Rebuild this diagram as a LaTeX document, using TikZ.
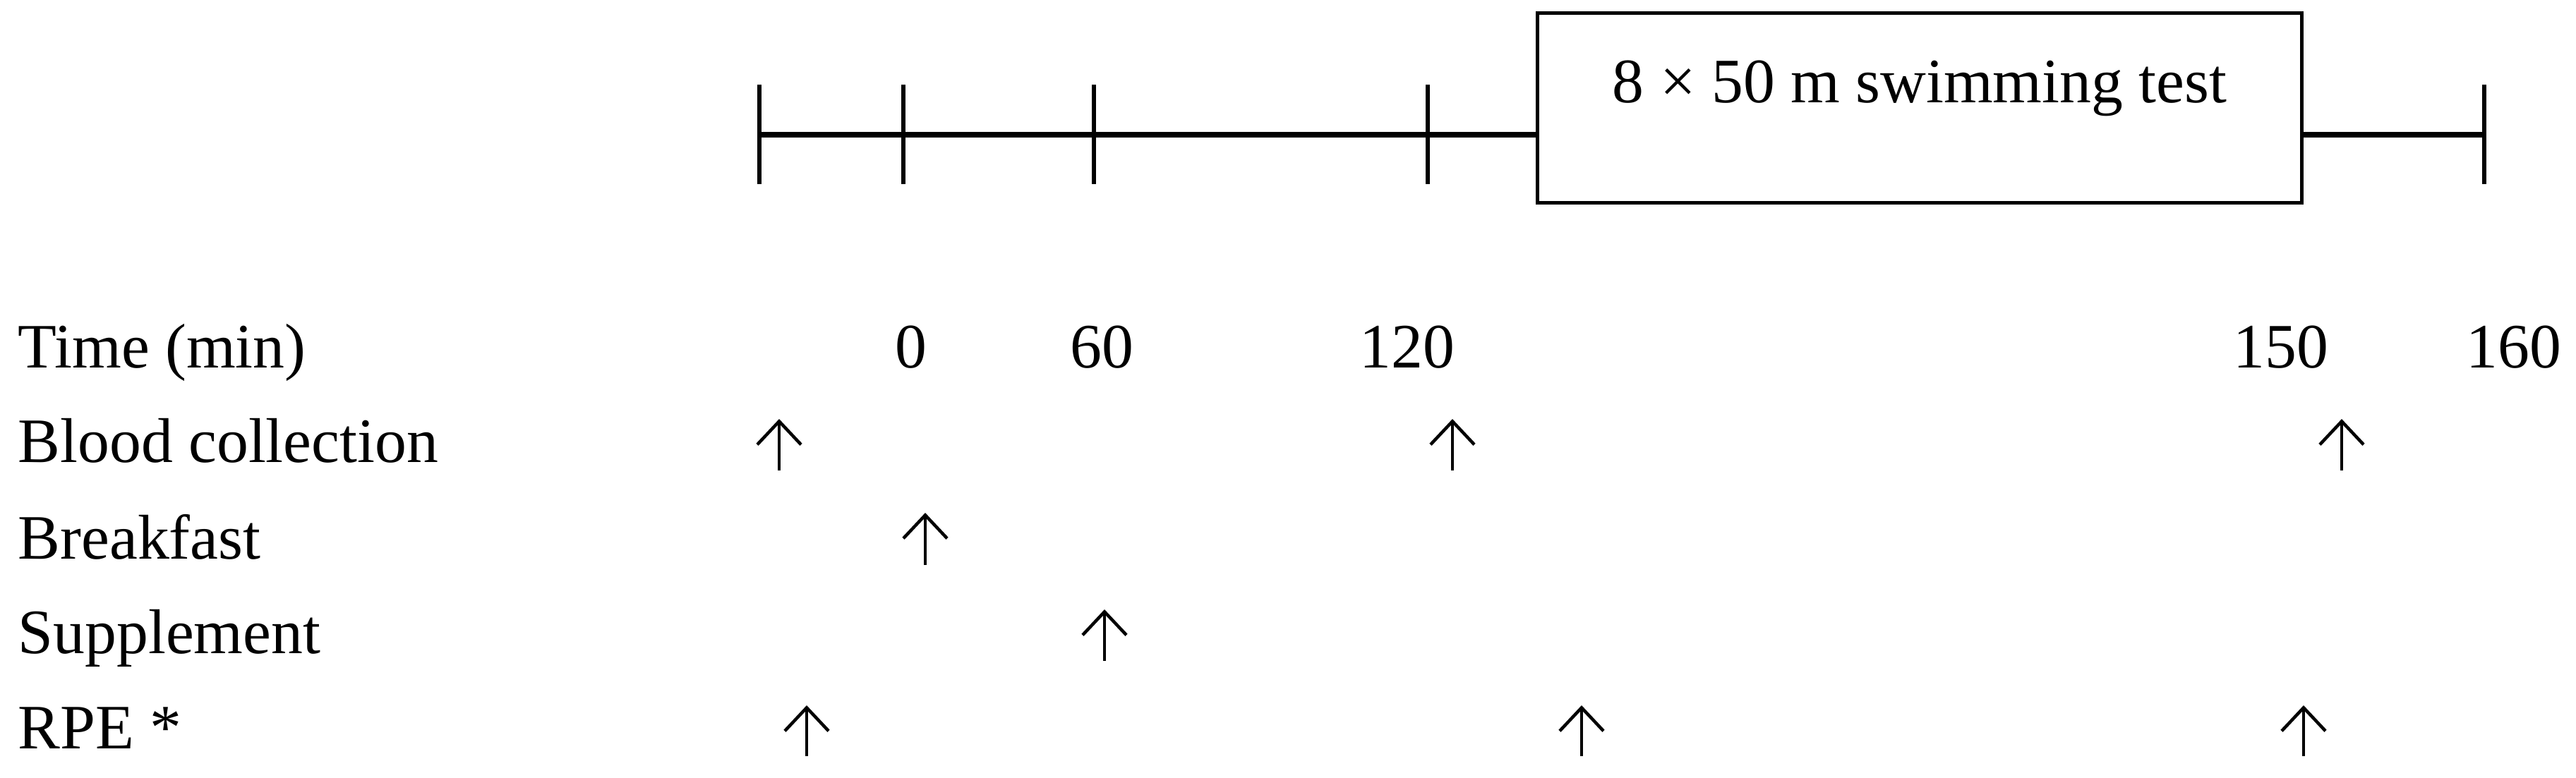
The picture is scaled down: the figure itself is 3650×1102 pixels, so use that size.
\documentclass[tikz,border=0pt]{standalone}
\usepackage{fontspec}
\setmainfont{Liberation Serif}
\usetikzlibrary{arrows.meta}
\begin{document}
\begin{tikzpicture}[x=0.01cm,y=-0.01cm,
  txt/.style={inner sep=0pt,font=\fontsize{25.5}{30}\selectfont},
  rowlabel/.style={txt,anchor=base west},
  num/.style={txt,anchor=base},
  axis/.style={line width=0.08cm},
  tickline/.style={line width=0.06cm},
  testbox/.style={draw,line width=0.05cm,minimum width=10.83cm,minimum height=2.68cm,inner sep=0pt},
  uparrow/.style={line width=0.045cm,-{Straight Barb[length=0.33cm,width=0.62cm]}}]
\useasboundingbox (0,0) rectangle (3650,1102);

% timeline
\node[testbox] (swim) at (2720,153) {};
\node[txt,anchor=base] (swimtxt) at (2720,145) {8 × 50 m swimming test};
\foreach \n/\x in {t1/1076,t2/1280,t3/1550,t4/2023,t5/3520}{
  \coordinate (\n) at (\x,191);
  \coordinate (\n top) at (\x,120);
  \coordinate (\n bot) at (\x,261);
  \draw[tickline] (\n top) -- (\n bot);
}
\draw[axis] (t1) -- (t1 -| swim.west);
\draw[axis] (t5 -| swim.east) -- (t5);

% row labels
\node[rowlabel] (time) at (25,521) {Time (min)};
\node[rowlabel] (blood) at (25,655) {Blood collection};
\node[rowlabel] (bfast) at (25,792) {Breakfast};
\node[rowlabel] (supp) at (25,926) {Supplement};
\node[rowlabel] (rpe) at (25,1061) {RPE *};

% time numbers
\node[num] (n0) at (1291,521) {0};
\node[num] (n60) at (1561,521) {60};
\node[num] (n120) at (1994,521) {120};
\node[num] (n150) at (3232,521) {150};
\node[num] (n160) at (3562,521) {160};

% arrows
\foreach \n/\x/\yb/\yt in {b1/1104/667/594, b2/2058/667/594, b3/3318/667/594,
  f1/1311/801/727, s1/1565/937/864,
  r1/1143/1072/1000, r2/2241/1072/1000, r3/3264/1072/1000}{
  \coordinate (\n s) at (\x,\yb);
  \coordinate (\n e) at (\x,\yt);
  \draw[uparrow] (\n s) -- (\n e);
}
\end{tikzpicture}
\end{document}
